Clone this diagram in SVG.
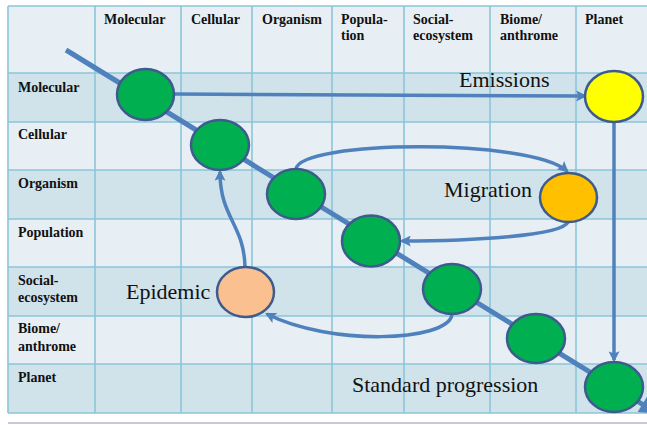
<svg xmlns="http://www.w3.org/2000/svg" width="647" height="425" viewBox="0 0 647 425">
<defs>
<style>
.hdr{font-family:"Liberation Serif","Times New Roman",serif;font-weight:bold;font-size:14px;fill:#111}
.lbl{font-family:"Liberation Serif","Times New Roman",serif;font-size:22px;fill:#111}
.lt{fill:#e7eff4}
.dk{fill:#d0e2ea}
.grid{stroke:#8cc6d9;stroke-width:1.6;fill:none}
.edge{stroke:#4f81bd;stroke-width:3.5;fill:none}
.node{stroke:#3d5b8c;stroke-width:2.5}
.green{fill:#00b050}
</style>
<marker id="ah" viewBox="0 0 10 10" refX="8" refY="5" markerWidth="13" markerHeight="11" markerUnits="userSpaceOnUse" orient="auto">
<path d="M0,0 L10,5 L0,10 L2,5 z" fill="#4f81bd"/>
</marker>
<marker id="ahBig" viewBox="0 0 10 10" refX="5" refY="5" markerWidth="20" markerHeight="18" markerUnits="userSpaceOnUse" orient="auto">
<path d="M0,0 L10,5 L0,10 z" fill="#4f81bd"/>
</marker>
</defs>
<rect width="647" height="425" fill="#ffffff"/>
<g id="table">
<rect class="lt" x="8" y="6" width="645" height="67"/>
<rect class="dk" x="8" y="73" width="645" height="49"/>
<rect class="lt" x="8" y="122" width="645" height="48"/>
<rect class="dk" x="8" y="170" width="645" height="49"/>
<rect class="lt" x="8" y="219" width="645" height="48"/>
<rect class="dk" x="8" y="267" width="645" height="49"/>
<rect class="lt" x="8" y="316" width="645" height="48"/>
<rect class="dk" x="8" y="364" width="645" height="49"/>
<path class="grid" d="M8,6 H653 M8,73 H653 M8,122 H653 M8,170 H653 M8,219 H653 M8,267 H653 M8,316 H653 M8,364 H653 M8,413 H653 M8,6 V413 M95,6 V413 M181,6 V413 M252,6 V413 M332,6 V413 M404,6 V413 M490,6 V413 M576,6 V413"/>
<line x1="8" y1="423" x2="647" y2="423" stroke="#c9c9d9" stroke-width="2"/>
<text class="hdr" x="104" y="24">Molecular</text>
<text class="hdr" x="191" y="24">Cellular</text>
<text class="hdr" x="262" y="24">Organism</text>
<text class="hdr" x="341" y="24">Popula-</text>
<text class="hdr" x="341" y="40">tion</text>
<text class="hdr" x="413" y="24">Social-</text>
<text class="hdr" x="413" y="40">ecosystem</text>
<text class="hdr" x="500" y="24">Biome/</text>
<text class="hdr" x="500" y="40">anthrome</text>
<text class="hdr" x="585" y="24">Planet</text>
<text class="hdr" x="18" y="92">Molecular</text>
<text class="hdr" x="18" y="139">Cellular</text>
<text class="hdr" x="18" y="188">Organism</text>
<text class="hdr" x="18" y="237">Population</text>
<text class="hdr" x="18" y="285">Social-</text>
<text class="hdr" x="18" y="302">ecosystem</text>
<text class="hdr" x="18" y="333">Biome/</text>
<text class="hdr" x="18" y="351">anthrome</text>
<text class="hdr" x="18" y="382">Planet</text>
</g>
<g id="connectors">
<line x1="66" y1="50" x2="650" y2="409" stroke="#4f81bd" stroke-width="5" marker-end="url(#ahBig)"/>
<path class="edge" d="M174,94 L585,96" marker-end="url(#ah)"/>
<path class="edge" d="M614,122 L614,360" marker-end="url(#ah)"/>
<path class="edge" d="M296,169 C300,140 530,138 567,171" marker-end="url(#ah)"/>
<path class="edge" d="M568,222 C562,236 470,241 402,241" marker-end="url(#ah)"/>
<path class="edge" d="M452,315 C446,342 330,346 267,314" marker-end="url(#ah)"/>
<path class="edge" d="M245,267 C244,224 220,218 220,172" marker-end="url(#ah)"/>
</g>
<g id="n-molecular"><ellipse class="node green" cx="145.5" cy="94.5" rx="28.5" ry="25.5"/></g>
<g id="n-cellular"><ellipse class="node green" cx="220" cy="145" rx="29" ry="25"/></g>
<g id="n-organism"><ellipse class="node green" cx="296" cy="194" rx="29" ry="25"/></g>
<g id="n-population"><ellipse class="node green" cx="371" cy="241" rx="29" ry="25.5"/></g>
<g id="n-social"><ellipse class="node green" cx="452" cy="289" rx="29" ry="25"/></g>
<g id="n-biome"><ellipse class="node green" cx="536" cy="338.5" rx="29" ry="24.5"/></g>
<g id="n-planet"><ellipse class="node green" cx="614" cy="387" rx="29" ry="25"/></g>
<g id="n-emissions"><ellipse class="node" fill="#ffff00" cx="614" cy="96.5" rx="29" ry="25.5"/><text class="lbl" x="459" y="87">Emissions</text></g>
<g id="n-migration"><ellipse class="node" fill="#ffc000" cx="568.5" cy="197.5" rx="28.5" ry="24.5"/><text class="lbl" x="444" y="197">Migration</text></g>
<g id="n-epidemic"><ellipse class="node" fill="#fac090" cx="245.5" cy="292" rx="28.5" ry="25"/><text class="lbl" x="126" y="299">Epidemic</text></g>
<g id="n-standard"><text class="lbl" x="352" y="392">Standard progression</text></g>
</svg>
